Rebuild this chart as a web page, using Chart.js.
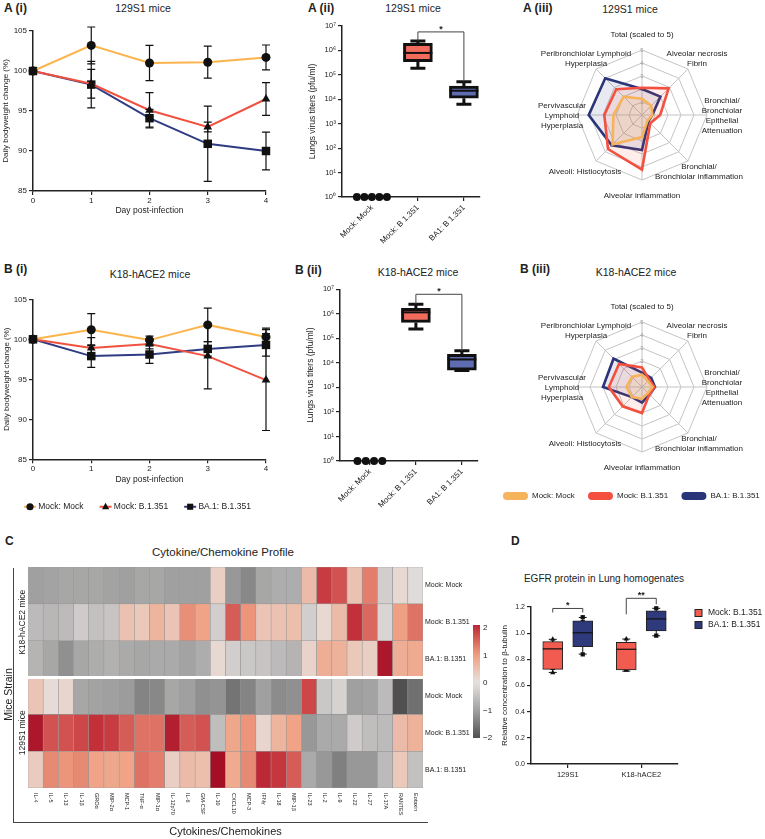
<!DOCTYPE html>
<html>
<head>
<meta charset="utf-8">
<script src="https://cdn.jsdelivr.net/npm/chart.js@4.4.1/dist/chart.umd.min.js"></script>
<style>
  html, body { margin: 0; padding: 0; background: #fff; }
  body { width: 765px; height: 839px; position: relative; overflow: hidden;
         font-family: "Liberation Sans", Arial, Helvetica, sans-serif; color: #222; }
  canvas { position: absolute; }
  .t { position: absolute; white-space: nowrap; line-height: 1; }
  .pl { font-weight: bold; font-size: 12px; }
  .st { font-size: 10.5px; transform: translateX(-50%); }
  .frame { position: absolute; border-left: 1.3px solid #444; border-bottom: 1.3px solid #444; }
</style>
</head>
<body>
<div class="t pl" style="left:4px;top:2px">A (i)</div>
<div class="t st" style="left:143px;top:3px">129S1 mice</div>
<div class="t pl" style="left:308px;top:2px">A (ii)</div>
<div class="t st" style="left:413px;top:3px">129S1 mice</div>
<div class="t pl" style="left:523px;top:2px">A (iii)</div>
<div class="t st" style="left:630px;top:4px">129S1 mice</div>
<div class="t pl" style="left:4px;top:263px">B (i)</div>
<div class="t st" style="left:150px;top:269px">K18-hACE2 mice</div>
<div class="t pl" style="left:295px;top:264px">B (ii)</div>
<div class="t st" style="left:418px;top:267px">K18-hACE2 mice</div>
<div class="t pl" style="left:520px;top:263px">B (iii)</div>
<div class="t st" style="left:636px;top:267px">K18-hACE2 mice</div>
<div class="t pl" style="left:5px;top:535px">C</div>
<div class="t st" style="left:223px;top:547px;font-size:11.5px">Cytokine/Chemokine Profile</div>
<div class="t pl" style="left:511px;top:535px">D</div>
<div class="t st" style="left:604px;top:574px;font-size:10px">EGFR protein in Lung homogenates</div>
<div class="frame" style="left:13px;top:568px;width:414px;height:254px"></div>

<canvas id="wA" width="290" height="216" style="left:0;top:0"></canvas>
<canvas id="wB" width="290" height="259" style="left:0;top:262px"></canvas>
<canvas id="tA" width="240" height="262" style="left:245px;top:0"></canvas>
<canvas id="tB" width="240" height="262" style="left:245px;top:262px"></canvas>
<canvas id="rA" width="300" height="240" style="left:480px;top:0"></canvas>
<canvas id="rB" width="300" height="260" style="left:480px;top:250px"></canvas>
<canvas id="hm" width="500" height="299" style="left:0;top:540px"></canvas>
<canvas id="cb" width="45" height="140" style="left:455px;top:610px"></canvas>
<canvas id="eg" width="265" height="230" style="left:500px;top:560px"></canvas>

<script>
// ---- data ----
const groups = ['Mock: Mock', 'Mock: B.1.351', 'BA.1: B.1.351'];
const days = [0, 1, 2, 3, 4];

// daily bodyweight (%) and error bars, 129S1
const w129Mock = [100, 103.2, 101.0, 101.1, 101.7];
const w129MockErr = [0, 2.3, 2.2, 2.0, 1.55];
const w129B = [100, 98.4, 95.1, 93.0, 96.5];
const w129BErr = [0, 1.8, 2.2, 0.6, 2.05];
const w129BA = [100, 98.3, 94.1, 90.9, 90.0];
const w129BAErr = [0, 2.9, 1.1, 4.7, 2.35];
// K18-hACE2
const wK18Mock = [100, 101.2, 99.9, 101.8, 100.3];
const wK18MockErr = [0, 2.0, 0.5, 2.1, 1.1];
const wK18B = [100, 98.9, 99.4, 97.9, 94.9];
const wK18BErr = [0, 1.3, 0.6, 4.1, 6.3];
const wK18BA = [100, 97.9, 98.1, 98.8, 99.3];
const wK18BAErr = [0, 1.4, 1.1, 0.9, 1.4];

// lung titers (pfu/ml): [min, q1, median, q3, max]
const titerCats = ['Mock: Mock', 'Mock: B 1.351', 'BA1: B 1.351'];
const titerTicks = [1, 10, 100, 1e3, 1e4, 1e5, 1e6, 1e7];
const titer129Mock = [1, 1, 1, 1, 1];
const titer129B = [1.86e5, 3.47e5, 7.9e5, 1.95e6, 2.45e6];
const titer129BA = [6.3e3, 1.1e4, 2.24e4, 3.47e4, 5.25e4];
const titerK18Mock = [1, 1, 1, 1];
const titerK18B = [2.4e5, 4.47e5, 1.15e6, 1.66e6, 2.45e6];
const titerK18BA = [4.9e3, 5.1e3, 1.38e4, 2.24e4, 3.1e4];

// histopathology scores
const radarAxes = [['Total (scaled to 5)'], ['Alveolar necrosis', 'Fibrin'],
  ['Bronchial/', 'Bronchiolar', 'Epithelial', 'Attenuation'], ['Bronchial/', 'Bronchiolar inflammation'],
  ['Alveolar inflammation'], ['Alveoli: Histiocytosis'], ['Pervivascular', 'Lymphoid', 'Hyperplasia'],
  ['Peribronchiolar Lymphoid', 'Hyperplasia']];
const histo129Mock = [1.25, 1.0, 0.8, 0.6, 1.7, 3.2, 2.2, 2.0];
const histo129B = [2.1, 2.9, 1.4, 0.9, 4.2, 3.7, 2.9, 2.8];
const histo129BA = [2.0, 2.0, 0.8, 0.7, 2.7, 3.3, 4.1, 4.0];
const histoK18Mock = [0.95, 0.65, 0.8, 0.65, 0.9, 1.1, 1.2, 1.1];
const histoK18B = [1.5, 0.8, 0.95, 0.8, 2.0, 2.1, 2.55, 2.5];
const histoK18BA = [1.1, 1.0, 1.0, 0.8, 1.2, 1.1, 3.0, 3.1];

// cytokine heatmap (row z-scores)
const cytokines = ['IL-4', 'IL-5', 'IL-13', 'IL-1β', 'GROα', 'MIP-2α', 'MCP-1', 'TNF-α', 'MIP-1α', 'IL-12p70',
  'IL-6', 'GM-CSF', 'IL-10', 'CXCL10', 'MCP-3', 'IFNγ', 'IL-18', 'MIP-1β', 'IL-23', 'IL-2', 'IL-9', 'IL-22',
  'IL-27', 'IL-17A', 'RANTES', 'Eotaxin'];
const rowNames = ['Mock: Mock', 'Mock: B.1.351', 'BA.1: B.1351', 'Mock: Mock', 'Mock: B.1.351', 'BA.1: B.1351'];
const strains = ['K18-hACE2 mice', '129S1 mice'];
const strainAxisTitle = 'Mice Strain';
const hmK18Mock = [-1.0, -0.95, -0.9, -0.9, -0.9, -0.95, -1.0, -0.9, -0.9, -1.0, -1.0, -1.0, 0.3, -1.1, -1.3,
  -0.9, -0.8, -0.8, 0.6, 1.9, 1.7, 0.5, 1.3, -0.3, 0.15, -0.1];
const hmK18B = [-0.6, -0.65, -0.6, -0.35, -0.5, -0.45, 0.5, 0.4, 0.7, 0.45, 1.15, 0.95, -0.3, 1.6, 1.1,
  0.45, 0.5, 0.55, -0.3, 0.15, 0.6, 2.0, 1.5, -0.2, 1.0, 1.4];
const hmK18BA = [-0.7, -0.9, -1.2, -0.9, -0.8, -0.75, -0.85, -0.9, -0.85, -0.85, -0.95, -0.8, 0.15, -0.3, -0.4,
  -0.45, -0.6, -0.7, 0.25, 0.8, 0.75, 0.4, 0.3, 2.3, 0.8, 0.85];
const hm129Mock = [0.45, 0.1, 0.2, -0.9, -0.95, -1.0, -1.05, -1.35, -1.3, -0.9, -1.0, -1.2, -1.15, -1.55, -1.35,
  -1.0, -1.25, -1.2, 1.8, -0.4, -0.25, -1.0, -0.95, -0.6, -2.0, -1.6];
const hm129B = [2.3, 1.7, 1.7, 1.8, 2.0, 1.9, 1.6, 1.4, 1.4, 2.2, 1.6, 1.7, -0.55, 0.9, 1.1,
  0.2, 0.7, 0.95, -1.1, -0.85, -0.85, -0.35, -0.55, -0.6, 0.6, 0.75];
const hm129BA = [0.35, 1.2, 1.1, 1.2, 0.95, 0.9, 0.95, 1.4, 1.3, 0.3, 0.6, 0.55, 2.4, 0.85, 1.2,
  2.1, 1.95, 1.6, -0.85, -1.1, -1.4, -1.1, -1.1, -0.6, 0.4, -0.5];
const colorbarTicks = [-2, -1, 0, 1, 2];

// EGFR: [min, q1, median, q3, max] per strain, and the individual mice
const egfrCats = ['129S1', 'K18-hACE2'];
const egfrB = [[0.70, 0.723, 0.88, 0.935, 0.953], [0.71, 0.72, 0.877, 0.93, 0.955]];
const egfrBA = [[0.84, 0.897, 1.003, 1.095, 1.12], [0.98, 1.017, 1.109, 1.17, 1.19]];
const egfrBPts = [[0.953, 0.923, 0.883, 0.729, 0.698], [0.955, 0.915, 0.871, 0.719, 0.719]];
const egfrBAPts = [[1.122, 1.084, 1.004, 0.953, 0.838], [1.19, 1.131, 1.084, 0.981]];

// ---- styling ----
const fam = '"Liberation Sans", Arial, Helvetica, sans-serif';
Chart.defaults.font.family = fam;
Chart.defaults.color = '#222';
Chart.defaults.animation = false;
Chart.defaults.plugins.legend.display = false;
Chart.defaults.plugins.tooltip.enabled = false;

const lineColors = ['#fbb44c', '#f0523f', '#2f3c83'];
const markers = ['circle', 'triangle', 'rect'];
const markerR = [4.5, 5, 6];
const tickGrid = {display: true, drawOnChartArea: false, drawTicks: true, tickLength: 4, color: '#222', lineWidth: 1.2};
const axisBorder = {display: true, color: '#222', width: 1.5};
const sup = ['⁰', '¹', '²', '³', '⁴', '⁵', '⁶', '⁷', '⁸', '⁹'];

function drawMarker(ctx, style, x, y, r) {
  ctx.fillStyle = '#111';
  ctx.beginPath();
  if (style === 'circle') ctx.arc(x, y, r, 0, Math.PI * 2);
  else if (style === 'triangle') {
    ctx.moveTo(x, y - r * 1.1); ctx.lineTo(x + r, y + r * 0.7); ctx.lineTo(x - r, y + r * 0.7); ctx.closePath();
  } else ctx.rect(x - r * 0.85, y - r * 0.85, r * 1.7, r * 1.7);
  ctx.fill();
}

const errorBars = {
  id: 'errorBars',
  afterDatasetsDraw(chart) {
    const ctx = chart.ctx, y = chart.scales.y;
    ctx.save();
    ctx.strokeStyle = '#111';
    ctx.lineWidth = 1.2;
    chart.data.datasets.forEach((ds, k) => {
      chart.getDatasetMeta(k).data.forEach((pt, i) => {
        const e = ds.errors[i];
        if (!e) return;
        const v = ds.data[i].y;
        const hi = y.getPixelForValue(v + e), lo = y.getPixelForValue(v - e);
        ctx.beginPath();
        ctx.moveTo(pt.x, hi); ctx.lineTo(pt.x, lo);
        ctx.moveTo(pt.x - 4, hi); ctx.lineTo(pt.x + 4, hi);
        ctx.moveTo(pt.x - 4, lo); ctx.lineTo(pt.x + 4, lo);
        ctx.stroke();
      });
    });
    ctx.restore();
  }
};

// colored line behind the black marker in the line-chart legend
const legendMarkers = {
  id: 'legendMarkers',
  afterDraw(chart) {
    const lg = chart.legend;
    if (!chart.options.plugins.legend.display || !lg || !lg.legendHitBoxes) return;
    const ctx = chart.ctx, fs = chart.options.plugins.legend.labels.font.size;
    ctx.save();
    lg.legendHitBoxes.forEach((hb, i) => {
      const ds = chart.data.datasets[i];
      const cx = hb.left + 4, cy = hb.top + fs / 2;
      ctx.fillStyle = '#fff';
      ctx.fillRect(cx - 7, cy - 6, 14, 12);
      ctx.strokeStyle = ds.borderColor;
      ctx.lineWidth = 2;
      ctx.beginPath(); ctx.moveTo(cx - 6, cy); ctx.lineTo(cx + 6, cy); ctx.stroke();
      drawMarker(ctx, ds.pointStyle, cx, cy, 3.6);
    });
    ctx.restore();
  }
};

function weightChart(id, sets, o) {
  return new Chart(document.getElementById(id), {
    type: 'line',
    data: {
      datasets: sets.map((s, k) => ({
        label: groups[k],
        data: days.map((d, i) => ({x: d, y: s[0][i]})),
        errors: s[1],
        borderColor: lineColors[k], backgroundColor: '#111', borderWidth: 2,
        pointStyle: markers[k], pointRadius: markerR[k],
        pointBackgroundColor: '#111', pointBorderColor: '#111', pointBorderWidth: 0,
        clip: false
      }))
    },
    options: {
      responsive: false, devicePixelRatio: 1,
      layout: {padding: o.pad},
      plugins: {legend: o.legend || {display: false}},
      scales: {
        x: {type: 'linear', min: 0, max: 4, ticks: {stepSize: 1, font: {size: 8}, padding: 1},
            grid: tickGrid, border: axisBorder,
            title: {display: true, text: 'Day post-infection', font: {size: 8.5}, padding: {top: 0, bottom: 0}},
            afterFit: s => { s.height = o.xH; }},
        y: {min: 85, max: 105, ticks: {stepSize: 5, font: {size: 8}, padding: 2},
            grid: tickGrid, border: axisBorder,
            title: {display: true, text: 'Daily bodyweight change (%)', font: {size: 8}, padding: {top: o.yTitlePad, bottom: 0}},
            afterFit: s => { s.width = o.yW; }},
        // empty right-hand strip so the plot ends at day 4 while the legend keeps the full width
        spacer: {position: 'right', grid: {display: false, drawTicks: false}, border: {display: false},
                 ticks: {display: false}, afterFit: s => { s.width = o.rightW; }}
      }
    },
    plugins: [errorBars, legendMarkers]
  });
}

weightChart('wA', [[w129Mock, w129MockErr], [w129B, w129BErr], [w129BA, w129BAErr]],
  {pad: {top: 31, left: 0, right: 0, bottom: 0}, xH: 25, yW: 33, yTitlePad: 1, rightW: 24});
weightChart('wB', [[wK18Mock, wK18MockErr], [wK18B, wK18BErr], [wK18BA, wK18BAErr]],
  {pad: {top: 37.3, left: 8, right: 0, bottom: 0}, xH: 25.2, yW: 25, yTitlePad: -6, rightW: 24,
   legend: {display: true, position: 'bottom', align: 'start',
            labels: {usePointStyle: true, boxWidth: 8, boxHeight: 5, padding: 18, font: {size: 8.5}, color: '#222'}}});

// box-and-whisker decoration + significance brackets
const boxWhiskers = {
  id: 'boxWhiskers',
  afterDatasetsDraw(chart, args, o) {
    const ctx = chart.ctx, y = chart.scales.y;
    ctx.save();
    ctx.strokeStyle = '#111';
    chart.data.datasets.forEach((ds, k) => {
      if (!ds.box) return;
      chart.getDatasetMeta(k).data.forEach((bar, i) => {
        const [lo, q1, med, q3, hi] = ds.box[i].map(v => y.getPixelForValue(v));
        const x = bar.x, half = bar.width / 2;
        ctx.lineWidth = o.lw;
        ctx.beginPath();
        ctx.moveTo(x, q3); ctx.lineTo(x, hi);
        ctx.moveTo(x - o.cap, hi); ctx.lineTo(x + o.cap, hi);
        ctx.moveTo(x, q1); ctx.lineTo(x, lo);
        ctx.moveTo(x - o.cap, lo); ctx.lineTo(x + o.cap, lo);
        ctx.stroke();
        ctx.lineWidth = o.medLw;
        ctx.beginPath(); ctx.moveTo(x - half, med); ctx.lineTo(x + half, med); ctx.stroke();
      });
    });
    (o.brackets || []).forEach(br => {
      const ends = [br.a, br.b].map(([d, i]) => ({
        x: chart.getDatasetMeta(d).data[i].x,
        top: y.getPixelForValue(chart.data.datasets[d].box[i][4])
      }));
      const yb = Math.min(ends[0].top, ends[1].top) - br.gap;
      const legA = br.legA == null ? ends[0].top : yb + br.legA;
      const legB = br.legB == null ? ends[1].top : yb + br.legB;
      ctx.strokeStyle = '#444';
      ctx.lineWidth = 1;
      ctx.beginPath();
      ctx.moveTo(ends[0].x, legA); ctx.lineTo(ends[0].x, yb); ctx.lineTo(ends[1].x, yb); ctx.lineTo(ends[1].x, legB);
      ctx.stroke();
      ctx.fillStyle = '#222';
      ctx.font = 'bold 9px ' + fam;
      ctx.textAlign = 'center';
      ctx.textBaseline = 'bottom';
      ctx.fillText(br.text, (ends[0].x + ends[1].x) / 2, yb + 2);
    });
    ctx.restore();
  }
};

function titerChart(id, mock, b, ba, o) {
  const n = mock.length, pos = 0.65;
  const boxStyle = {borderColor: '#111', borderWidth: 3, borderSkipped: false, barThickness: 29, grouped: false};
  return new Chart(document.getElementById(id), {
    type: 'bar',
    data: {
      datasets: [
        Object.assign({label: groups[1], data: [{x: 1 + pos, y: [b[1], b[3]]}], box: [b], backgroundColor: '#f26b5c'}, boxStyle),
        Object.assign({label: groups[2], data: [{x: 2 + pos, y: [ba[1], ba[3]]}], box: [ba], backgroundColor: '#5e6db0'}, boxStyle),
        {type: 'scatter', label: groups[0], clip: false,
         data: mock.map((v, i) => ({x: pos + (i - (n - 1) / 2) * o.dotStep, y: v})),
         pointRadius: 4, pointBackgroundColor: '#111', pointBorderColor: '#111', pointBorderWidth: 0}
      ]
    },
    options: {
      responsive: false, devicePixelRatio: 1,
      layout: {padding: o.pad},
      plugins: {boxWhiskers: {lw: 3, cap: 7.5, medLw: 2, brackets: [{a: [0, 0], b: [1, 0], text: '*', gap: o.gap}]}},
      scales: {
        x: {type: 'linear', min: 0, max: 3, offset: false,
            grid: Object.assign({}, tickGrid, {offset: false}), border: axisBorder,
            afterBuildTicks: s => { s.ticks = titerCats.map((c, i) => ({value: i + pos})); },
            ticks: {autoSkip: false, minRotation: 45, maxRotation: 45, font: {size: 8}, padding: 2,
                    callback: (v, i) => titerCats[i]},
            afterFit: s => { s.height = o.xH; }},
        y: {type: 'logarithmic', min: 1, max: 1e7,
            grid: tickGrid, border: axisBorder,
            afterBuildTicks: s => { s.ticks = titerTicks.map(v => ({value: v})); },
            ticks: {autoSkip: false, font: {size: 7.5}, padding: 2,
                    callback: v => '10' + sup[Math.round(Math.log10(v))]},
            title: {display: true, text: 'Lungs virus titers (pfu/ml)', font: {size: 8.5}, padding: {top: 0, bottom: 0}},
            afterFit: s => { s.width = o.yW; }}
      }
    },
    plugins: [boxWhiskers]
  });
}

titerChart('tA', titer129Mock, titer129B, titer129BA,
  {pad: {top: 26, left: 63, right: 5, bottom: 0}, yW: 34, xH: 65, dotStep: 0.163, gap: 9});
titerChart('tB', titerK18Mock, titerK18B, titerK18BA,
  {pad: {top: 27.3, left: 61, right: 7, bottom: 0}, yW: 34, xH: 63, dotStep: 0.18, gap: 10});

// radar charts
const radarColors = ['#f7b35b', '#f4503f', '#2a3478'];
const radarFills = ['rgba(247,179,91,0.16)', 'rgba(244,80,63,0.10)', 'rgba(42,52,120,0.10)'];
const radarLabelPos = [[0, -80], [55, -56], [80, 1], [57, 57], [0, 81], [-57, 57], [-80, 1], [-56, -56]];

const radarLabels = {
  id: 'radarLabels',
  afterDraw(chart) {
    const s = chart.scales.r, ctx = chart.ctx;
    ctx.save();
    ctx.fillStyle = '#222';
    ctx.font = '8px ' + fam;
    ctx.textAlign = 'center';
    ctx.textBaseline = 'middle';
    radarAxes.forEach((lines, i) => {
      const [dx, dy] = radarLabelPos[i];
      lines.forEach((t, j) => ctx.fillText(t, s.xCenter + dx, s.yCenter + dy + (j - (lines.length - 1) / 2) * 10));
    });
    ctx.restore();
  }
};

function radarChart(id, sets, center, legend) {
  return new Chart(document.getElementById(id), {
    type: 'radar',
    data: {
      labels: radarAxes,
      datasets: sets.map((v, k) => ({
        label: groups[k], data: v, borderColor: radarColors[k], backgroundColor: radarFills[k],
        borderWidth: 2.6, pointRadius: 0, fill: true
      }))
    },
    options: {
      responsive: false, devicePixelRatio: 1,
      layout: {padding: {left: 9.7, right: 0, top: 0, bottom: 0}},
      plugins: {legend: legend || {display: false}},
      scales: {
        r: {min: 0, max: 5,
            ticks: {stepSize: 1, showLabelBackdrop: false, font: {size: 6}, color: '#a0a0a0'},
            grid: {color: '#c4c4c4', lineWidth: 1}, angleLines: {color: '#c4c4c4', lineWidth: 1},
            pointLabels: {display: false},
            afterFit: s => { s.xCenter = center[0]; s.yCenter = center[1]; s.drawingArea = 65; }}
      }
    },
    plugins: [radarLabels]
  });
}

radarChart('rA', [histo129Mock, histo129B, histo129BA], [162, 115]);
radarChart('rB', [histoK18Mock, histoK18B, histoK18BA], [162, 137], {
  display: true, position: 'bottom', align: 'start',
  labels: {boxWidth: 25, boxHeight: 8, padding: 13.3, font: {size: 8}, useBorderRadius: true, borderRadius: 4,
           generateLabels: chart => chart.data.datasets.map((ds, i) => ({
             text: ds.label, fillStyle: ds.borderColor, strokeStyle: ds.borderColor, lineWidth: 0,
             hidden: false, datasetIndex: i, borderRadius: 4, fontColor: '#222'}))}
});

// heatmap
const heatStops = [[-2, [80, 80, 80]], [-1, [160, 160, 160]], [0, [230, 226, 224]],
  [1, [240, 160, 130]], [2, [196, 48, 58]], [2.4, [165, 15, 38]]];
function heatColor(v) {
  for (let i = 1; i < heatStops.length; i++) {
    if (v <= heatStops[i][0] || i === heatStops.length - 1) {
      const [v0, c0] = heatStops[i - 1], [v1, c1] = heatStops[i];
      const t = Math.max(0, Math.min(1, (v - v0) / (v1 - v0)));
      return 'rgb(' + c0.map((c, j) => Math.round(c + (c1[j] - c) * t)).join(',') + ')';
    }
  }
}

const heatDecor = {
  id: 'heatDecor',
  afterDraw(chart) {
    const {ctx, chartArea: a, scales: {x, y}} = chart;
    ctx.save();
    ctx.strokeStyle = '#fff';
    ctx.lineWidth = 3;
    const ys = y.getPixelForValue(3);
    ctx.beginPath(); ctx.moveTo(a.left, ys); ctx.lineTo(a.right, ys); ctx.stroke();
    ctx.fillStyle = '#222';
    ctx.font = '5.5px ' + fam;
    ctx.textAlign = 'left';
    ctx.textBaseline = 'middle';
    cytokines.forEach((c, i) => {
      ctx.save();
      ctx.translate(x.getPixelForValue(i), a.bottom + 5);
      ctx.rotate(Math.PI / 2);
      ctx.fillText(c, 0, 0);
      ctx.restore();
    });
    ctx.font = '8.5px ' + fam;
    ctx.textAlign = 'center';
    strains.forEach((s, j) => {
      const yc = (y.getPixelForValue(6 - 3 * j) + y.getPixelForValue(3 - 3 * j)) / 2;
      ctx.save();
      ctx.translate(a.left - 5, yc);
      ctx.rotate(-Math.PI / 2);
      ctx.fillText(s, 0, 0);
      ctx.restore();
    });
    // axis title centred on the L-shaped frame
    ctx.font = '10.5px ' + fam;
    ctx.save();
    ctx.translate(9.5, (a.top + chart.height - 17) / 2);
    ctx.rotate(-Math.PI / 2);
    ctx.fillText(strainAxisTitle, 0, 0);
    ctx.restore();
    ctx.restore();
  }
};

const hmRows = [hmK18Mock, hmK18B, hmK18BA, hm129Mock, hm129B, hm129BA];
new Chart(document.getElementById('hm'), {
  type: 'bar',
  data: {
    labels: cytokines,
    datasets: hmRows.map((row, r) => ({
      label: rowNames[r],
      data: row.map(() => [hmRows.length - r - 1, hmRows.length - r]),
      backgroundColor: row.map(heatColor),
      borderColor: 'rgba(140,140,140,0.85)', borderWidth: 0.6, borderSkipped: false,
      barPercentage: 1, categoryPercentage: 1, grouped: false
    }))
  },
  options: {
    responsive: false, devicePixelRatio: 1,
    layout: {padding: {top: 27, left: 0, right: 0, bottom: 0}},
    scales: {
      x: {grid: {display: false}, border: {display: false}, ticks: {display: false},
          title: {display: true, text: 'Cytokines/Chemokines', font: {size: 11}, padding: {top: 0, bottom: 0}},
          afterFit: s => { s.height = 51; }},
      y: {min: 0, max: 6, grid: {display: false}, border: {display: false}, ticks: {display: false},
          afterFit: s => { s.width = 28; }},
      rows: {type: 'category', labels: rowNames, position: 'right', offset: true,
             grid: {display: false, drawTicks: false}, border: {display: false},
             ticks: {autoSkip: false, font: {size: 7}, padding: 2},
             afterFit: s => { s.width = 77; }}
    }
  },
  plugins: [heatDecor]
});

// colour key
new Chart(document.getElementById('cb'), {
  type: 'bar',
  data: {
    labels: [''],
    datasets: [{
      data: [[colorbarTicks[0], 2.1]], borderWidth: 0, barPercentage: 1, categoryPercentage: 1,
      backgroundColor: c => {
        const ys = c.chart.scales.y;
        if (!ys || !c.chart.chartArea) return '#ccc';
        const g = c.chart.ctx.createLinearGradient(0, ys.getPixelForValue(-2), 0, ys.getPixelForValue(2.1));
        for (let k = 0; k <= 20; k++) g.addColorStop(k / 20, heatColor(-2 + k * 4.1 / 20));
        return g;
      }
    }]
  },
  options: {
    responsive: false, devicePixelRatio: 1,
    layout: {padding: {left: 18, top: 15, bottom: 12, right: 0}},
    scales: {
      x: {display: false},
      y: {position: 'right', min: -2, max: 2.1, grid: {display: false, drawTicks: false}, border: {display: false},
          afterBuildTicks: s => { s.ticks = colorbarTicks.map(v => ({value: v})); },
          ticks: {font: {size: 8}, padding: 3, callback: v => String(v).replace('-', '−')},
          afterFit: s => { s.width = 20; }}
    }
  }
});

// EGFR box plots
const egfrShift = 0.204;
const egfrBox = {borderColor: '#222', borderWidth: 1, borderSkipped: false, barThickness: 20, grouped: false};
const egfrPts = {type: 'scatter', clip: false, pointRadius: 3, pointBackgroundColor: '#111', pointBorderColor: '#111', pointBorderWidth: 0};

const egfrLegend = {
  id: 'egfrLegend',
  afterDraw(chart) {
    const {ctx, chartArea: a} = chart;
    ctx.save();
    ctx.font = '8.5px ' + fam;
    ctx.textAlign = 'left';
    ctx.textBaseline = 'middle';
    [0, 1].forEach(i => {
      const ds = chart.data.datasets[i];
      const x = a.right + 17, y = a.top + 6 + i * 12;
      ctx.fillStyle = ds.backgroundColor;
      ctx.fillRect(x, y - 3.5, 7, 7);
      ctx.strokeStyle = '#222';
      ctx.lineWidth = 1;
      ctx.strokeRect(x, y - 3.5, 7, 7);
      ctx.fillStyle = '#222';
      ctx.fillText(ds.label, x + 13, y);
    });
    ctx.restore();
  }
};

new Chart(document.getElementById('eg'), {
  type: 'bar',
  data: {
    datasets: [
      Object.assign({label: 'Mock: B.1.351', backgroundColor: '#f15b50', box: egfrB,
        data: egfrB.map((b, g) => ({x: g + 0.5 - egfrShift, y: [b[1], b[3]]}))}, egfrBox),
      Object.assign({label: 'BA.1: B.1.351', backgroundColor: '#2f3a7d', box: egfrBA,
        data: egfrBA.map((b, g) => ({x: g + 0.5 + egfrShift, y: [b[1], b[3]]}))}, egfrBox),
      Object.assign({label: 'Mock: B.1.351 mice', pointStyle: 'triangle',
        data: egfrBPts.flatMap((p, g) => p.map(v => ({x: g + 0.5 - egfrShift, y: v})))}, egfrPts),
      Object.assign({label: 'BA.1: B.1.351 mice', pointStyle: 'rect',
        data: egfrBAPts.flatMap((p, g) => p.map(v => ({x: g + 0.5 + egfrShift, y: v})))}, egfrPts)
    ]
  },
  options: {
    responsive: false, devicePixelRatio: 1,
    layout: {padding: {top: 47, left: 0, right: 87, bottom: 0}},
    plugins: {
      boxWhiskers: {lw: 1, cap: 4, medLw: 1.2, brackets: [
        {a: [0, 0], b: [1, 0], text: '*', gap: 9, legA: 4, legB: 4},
        {a: [0, 1], b: [1, 1], text: '**', gap: 10, legA: 16, legB: 6}]}
    },
    scales: {
      x: {type: 'linear', min: 0, max: 2, offset: false,
          grid: Object.assign({}, tickGrid, {offset: false}), border: axisBorder,
          afterBuildTicks: s => { s.ticks = egfrCats.map((c, i) => ({value: i + 0.5})); },
          ticks: {autoSkip: false, font: {size: 7.5}, padding: 2, callback: (v, i) => egfrCats[i]},
          afterFit: s => { s.height = 26; }},
      y: {min: 0, max: 1.2, grid: tickGrid, border: axisBorder,
          ticks: {stepSize: 0.2, font: {size: 7}, padding: 2, callback: v => v.toFixed(1)},
          title: {display: true, text: 'Relative concentration to β-tubulin', font: {size: 8}, padding: {top: 0, bottom: 0}},
          afterFit: s => { s.width = 31; }}
    }
  },
  plugins: [boxWhiskers, egfrLegend]
});
</script>
</body>
</html>
